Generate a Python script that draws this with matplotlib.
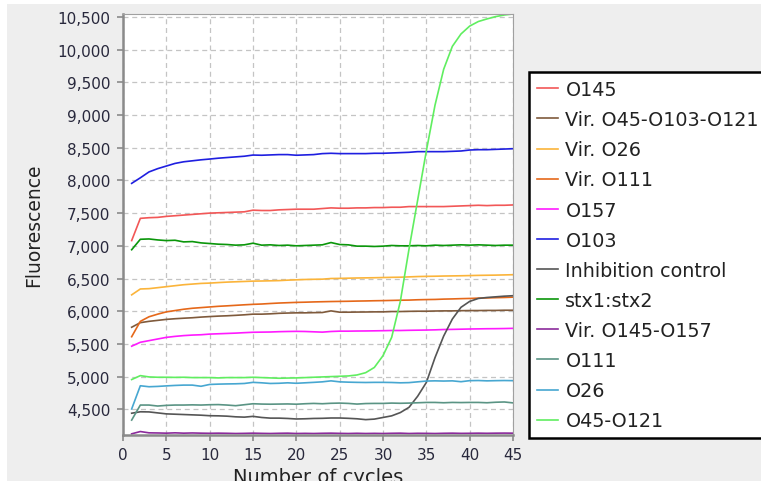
import matplotlib
matplotlib.use("Agg")
import matplotlib.pyplot as plt
from matplotlib.patches import Rectangle
from matplotlib.transforms import Bbox, TransformedBbox

cycles = list(range(1, 46))

o145 = [7080, 7420, 7430, 7435, 7450, 7460, 7470, 7480, 7490, 7500, 7505, 7510, 7515, 7520, 7545,
        7540, 7540, 7550, 7555, 7560, 7560, 7560, 7570, 7580, 7575, 7575, 7580, 7580, 7585, 7585,
        7590, 7590, 7600, 7600, 7600, 7600, 7600, 7605, 7610, 7615, 7620, 7615, 7620, 7620, 7625]
vir_o45_o103_o121 = [5755, 5825, 5845, 5860, 5875, 5885, 5893, 5900, 5910, 5918, 5925, 5930, 5937, 5945, 5955,
                     5955, 5960, 5968, 5972, 5975, 5975, 5978, 5980, 6005, 5985, 5985, 5987, 5988, 5990, 5990,
                     5995, 5995, 5998, 6000, 6000, 6003, 6005, 6005, 6008, 6010, 6010, 6012, 6012, 6015, 6015]
vir_o26 = [6250, 6340, 6345, 6360, 6375, 6390, 6405, 6415, 6425, 6430, 6438, 6445, 6450, 6455, 6460,
           6462, 6465, 6468, 6475, 6480, 6485, 6488, 6490, 6500, 6502, 6505, 6508, 6510, 6512, 6515,
           6518, 6520, 6525, 6530, 6533, 6535, 6538, 6540, 6542, 6545, 6548, 6550, 6552, 6555, 6558]
vir_o111 = [5610, 5845, 5915, 5955, 5990, 6010, 6030, 6045, 6055, 6065, 6075, 6082, 6090, 6098, 6105,
            6110, 6118, 6125, 6130, 6135, 6138, 6142, 6145, 6148, 6150, 6152, 6155, 6157, 6160, 6162,
            6165, 6168, 6170, 6175, 6178, 6180, 6185, 6188, 6192, 6195, 6200, 6203, 6207, 6210, 6215]
o157 = [5465, 5525, 5550, 5575, 5600, 5615, 5627, 5635, 5640, 5650, 5655, 5660, 5665, 5672, 5678,
        5680, 5682, 5687, 5690, 5692, 5690, 5685, 5680, 5690, 5695, 5695, 5697, 5698, 5700, 5702,
        5705, 5705, 5708, 5710, 5712, 5715, 5720, 5722, 5725, 5728, 5730, 5732, 5733, 5735, 5738]
o103 = [7955, 8040, 8130, 8180, 8220, 8260, 8285, 8300, 8315, 8327, 8340, 8350, 8360, 8370, 8388,
        8385, 8390, 8395, 8395, 8385, 8390, 8395, 8410, 8415, 8410, 8410, 8410, 8410, 8415, 8415,
        8420, 8425, 8430, 8440, 8440, 8440, 8440, 8445, 8450, 8465, 8470, 8470, 8475, 8480, 8485]
inhibition = [4440, 4462, 4460, 4445, 4430, 4425, 4420, 4415, 4410, 4402, 4400, 4395, 4385, 4380, 4392,
              4375, 4365, 4365, 4360, 4352, 4355, 4360, 4362, 4367, 4367, 4362, 4355, 4342, 4350, 4375,
              4400, 4450, 4530, 4700, 4910, 5290, 5620, 5880, 6060, 6150, 6195, 6210, 6220, 6230, 6237]
stx1_stx2 = [6940, 7100, 7105, 7090, 7080, 7085, 7060, 7065, 7045, 7035, 7025, 7020, 7010, 7015, 7040,
             7010, 7015, 7005, 7010, 7000, 7005, 7010, 7015, 7050, 7020, 7015, 6995, 6995, 6990, 6995,
             7005, 7000, 7000, 7005, 7000, 7010, 7005, 7010, 7015, 7010, 7015, 7010, 7005, 7010, 7010]
vir_o145_o157 = [4125, 4160, 4140, 4138, 4135, 4140, 4135, 4138, 4135, 4133, 4135, 4133, 4130, 4132, 4135,
                 4132, 4130, 4133, 4135, 4130, 4132, 4130, 4133, 4135, 4132, 4130, 4133, 4130, 4132, 4130,
                 4133, 4135, 4130, 4133, 4132, 4130, 4133, 4135, 4132, 4133, 4135, 4133, 4135, 4136, 4135]
o111 = [4335, 4565, 4565, 4550, 4560, 4565, 4565, 4568, 4565, 4570, 4572, 4565, 4555, 4570, 4585,
        4580, 4578, 4580, 4582, 4578, 4585, 4590, 4585, 4592, 4595, 4590, 4580, 4588, 4590, 4590,
        4595, 4592, 4595, 4600, 4605, 4605, 4600, 4605, 4603, 4605, 4605, 4600, 4608, 4612, 4598]
o26 = [4505, 4860, 4845, 4850, 4858, 4865, 4870, 4870, 4852, 4880, 4885, 4888, 4890, 4895, 4912,
       4905, 4895, 4898, 4905, 4898, 4905, 4912, 4920, 4935, 4920, 4915, 4912, 4910, 4912, 4912,
       4910, 4905, 4908, 4920, 4932, 4935, 4932, 4935, 4922, 4938, 4940, 4935, 4938, 4940, 4938]
o45_o121 = [4955, 5015, 4995, 4990, 4990, 4988, 4990, 4985, 4985, 4985, 4980, 4985, 4985, 4985, 4990,
            4985, 4980, 4975, 4978, 4980, 4985, 4990, 4995, 5000, 5005, 5010, 5025, 5060, 5140, 5320,
            5600, 6150, 6950, 7700, 8450, 9150, 9700, 10050, 10240, 10360, 10430, 10470, 10505, 10530, 10545]

labels = ["O145", "Vir. O45-O103-O121", "Vir. O26", "Vir. O111", "O157", "O103",
          "Inhibition control", "stx1:stx2", "Vir. O145-O157", "O111", "O26", "O45-O121"]
series = [o145, vir_o45_o103_o121, vir_o26, vir_o111, o157, o103,
          inhibition, stx1_stx2, vir_o145_o157, o111, o26, o45_o121]
colors = ["#f25757", "#7f5a3c", "#fbb43a", "#e5681a", "#ff1aff", "#1f1fe0",
          "#555555", "#0a960a", "#8b2b9b", "#5a9484", "#47a7d1", "#60ee60"]

xticks = list(range(0, 50, 5))
yticks = list(range(4500, 11000, 500))

W, H = 761, 489
fig = plt.figure(figsize=(W / 100, H / 100), dpi=100)
fig.patch.set_facecolor("white")
fig.patches.append(Rectangle((7 / W, 1 - 482 / H), 1, (482 - 5) / H,
                             transform=fig.transFigure, facecolor="#eeeeee",
                             edgecolor="none", zorder=-10))

ax = fig.add_axes([123 / W, 1 - 436 / H, (513 - 123) / W, (436 - 15) / H])
ax.set_facecolor("white")

for s, c, lab in zip(series, colors, labels):
    ax.plot(cycles, s, color=c, lw=1.2, label=lab)

ax.set_xlim(0, 45)
ax.set_ylim(4107, 10545)
ax.set_xticks(xticks)
ax.set_yticks(yticks)
ax.set_yticklabels([f"{v:,}" for v in yticks])
ax.grid(True, color="#c4c4c4", linestyle=(0, (4, 3)), linewidth=0.9)
ax.set_axisbelow(True)

for side in ["top", "right"]:
    ax.spines[side].set_color("#a0a0a0")
    ax.spines[side].set_linewidth(0.8)
for side in ["left", "bottom"]:
    ax.spines[side].set_color("#8a8a8a")
    ax.spines[side].set_linewidth(1.8)

ax.tick_params(axis="both", direction="out", length=4, width=1.2, color="#8a8a8a",
               labelsize=11, labelcolor="#28283c", pad=5)

ax.set_ylabel("Fluorescence", fontsize=13.5, color="#222222", labelpad=10)

xl = fig.text(318 / W, 1 - 468 / H, "Number of cycles", fontsize=14, color="#222222",
              ha="center", va="top")
xl.set_clip_box(TransformedBbox(Bbox([[0, 1 - 482 / H], [1, 1]]), fig.transFigure))
xl.set_clip_on(True)

leg = fig.legend(loc="upper left", bbox_to_anchor=(529 / W, 1 - 73 / H),
                 bbox_transform=fig.transFigure, fontsize=13.8, frameon=True,
                 fancybox=False, handlelength=1.1, handletextpad=0.38,
                 labelspacing=0.58, borderpad=0.42, borderaxespad=0)
frame = leg.get_frame()
frame.set_edgecolor("black")
frame.set_linewidth(1.8)
frame.set_facecolor("white")
frame.set_alpha(1)
for t in leg.get_texts():
    t.set_color("#222222")

fig.savefig("out.png", dpi=100)
